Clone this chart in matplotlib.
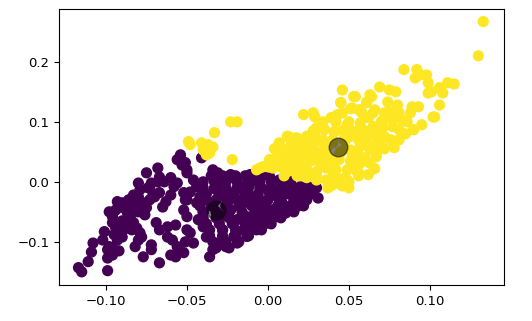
import numpy as np
import matplotlib
matplotlib.use("Agg")
import matplotlib.pyplot as plt

# points (x, y), cluster 0 = purple, cluster 1 = yellow
purple_x = [
    -0.117, -0.115, -0.099, -0.111, -0.109, -0.108, -0.102, -0.101, -0.099, -0.098,
    -0.096, -0.099, -0.093, -0.093, -0.094, -0.096, -0.096, -0.098, -0.094, -0.091,
    -0.093, -0.090, -0.087, -0.085, -0.087, -0.083, -0.084, -0.081, -0.079, -0.080,
    -0.082, -0.078, -0.086, -0.083, -0.080, -0.079, -0.077, -0.075, -0.076, -0.080,
    -0.075, -0.068, -0.073, -0.071, -0.068, -0.067, -0.067, -0.065, -0.063, -0.060,
    -0.058, -0.056, -0.056, -0.054, -0.053, -0.051, -0.050, -0.060, -0.052, -0.050,
    -0.069, -0.067, -0.062, -0.057, -0.062, -0.059, -0.056, -0.060, -0.057, -0.052,
    -0.051, -0.050, -0.077, -0.072, -0.067, -0.072, -0.041, -0.034, -0.031, -0.023,
    -0.022, -0.011, -0.007, -0.003, -0.052, -0.050, -0.046, -0.044, -0.048, -0.042,
    -0.044, -0.051, -0.050, -0.052, -0.048, -0.046, -0.043, -0.040, -0.038, -0.034,
    -0.031, -0.036, -0.032, -0.028, -0.023, -0.019, -0.015, -0.011, -0.005, 0.001,
    0.007, 0.014, 0.020, 0.016, 0.009, 0.003, -0.003, -0.009, -0.015, -0.021,
    -0.028, -0.030, -0.023, -0.017, -0.011, -0.005, 0.001, 0.007, -0.013, -0.007,
    -0.019, -0.001, 0.012, -0.026, -0.019, -0.013, -0.007, -0.001, 0.005, 0.018,
    0.003, 0.011, 0.015, 0.019, 0.023, 0.030, 0.031, 0.025, 0.007, 0.015,
    -0.035, -0.025, -0.040, -0.030, -0.038, -0.027, -0.020, -0.012, -0.004, 0.004,
    # dense middle part
    -0.035, -0.028, -0.020, -0.014, -0.008,
    -0.040, -0.033, -0.026, -0.019, -0.012, -0.005, 0.002, 0.009,
    -0.040, -0.033, -0.026, -0.019, -0.012, -0.005, 0.002, 0.009, 0.016, 0.023,
    -0.038, -0.030, -0.022, -0.014, -0.006, 0.004, 0.012, 0.020, 0.027,
    -0.040, -0.032, -0.024, -0.016, -0.008, 0.000, 0.008, 0.016, 0.024,
    -0.042, -0.034, -0.026, -0.018, -0.010, -0.002, 0.006, 0.014, 0.022,
    -0.040, -0.032, -0.024, -0.016, -0.008, 0.000, 0.008, 0.016,
    -0.040, -0.032, -0.024, -0.016, -0.008, 0.000, 0.008,
    -0.038, -0.030, -0.022, -0.014, -0.006, 0.002,
    -0.036, -0.028, -0.020, -0.012, -0.004,
    -0.036, -0.028, -0.020, -0.012,
    -0.034, -0.026, -0.018,
    -0.032, -0.024,
    # dense left part
    -0.092, -0.088, -0.084, -0.086, -0.090, -0.092, -0.088, -0.095, -0.090, -0.096,
    -0.092, -0.082, -0.078, -0.074, -0.072, -0.064, -0.070, -0.085, -0.080, -0.073,
]
purple_y = [
    -0.143, -0.150, -0.148, -0.133, -0.117, -0.102, -0.097, -0.083, -0.113, -0.108,
    -0.122, -0.127, -0.097, -0.085, -0.077, -0.068, -0.058, -0.050, -0.047, -0.042,
    -0.033, -0.035, -0.050, -0.058, -0.068, -0.068, -0.080, -0.077, -0.085, -0.097,
    -0.108, -0.092, -0.030, -0.022, -0.025, -0.013, -0.035, -0.043, -0.055, -0.002,
    0.015, 0.023, -0.010, -0.022, 0.000, 0.008, -0.018, -0.042, -0.033, 0.007,
    -0.008, -0.002, 0.037, 0.045, 0.028, 0.032, 0.015, -0.022, -0.018, -0.030,
    -0.068, -0.080, -0.075, -0.072, -0.092, -0.097, -0.108, -0.122, -0.125, -0.118,
    -0.100, -0.080, -0.125, -0.105, -0.135, -0.113, 0.040, 0.020, 0.015, 0.012,
    0.007, 0.012, 0.015, 0.017, 0.032, 0.020, 0.003, -0.008, -0.017, -0.025,
    -0.035, -0.030, -0.058, -0.047, -0.085, -0.102, -0.063, -0.075, -0.092, -0.113,
    -0.102, -0.125, -0.013, -0.024, -0.019, -0.013, -0.008, -0.002, 0.003, 0.009,
    0.003, 0.001, -0.008, -0.024, -0.036, -0.047, -0.058, -0.069, -0.080, -0.091,
    -0.080, -0.063, -0.047, -0.041, -0.036, -0.030, -0.019, -0.013, -0.058, -0.047,
    -0.063, -0.041, -0.047, -0.108, -0.102, -0.091, -0.080, -0.069, -0.058, -0.041,
    -0.052, -0.052, -0.047, -0.030, -0.019, -0.010, -0.027, -0.008, -0.030, -0.013,
    -0.040, -0.035, -0.050, -0.055, -0.030, -0.005, -0.028, -0.020, -0.010, -0.022,
    0.010, 0.010, 0.010, 0.010, 0.010,
    0.000, 0.000, 0.000, 0.000, 0.000, 0.000, 0.000, 0.000,
    -0.010, -0.010, -0.010, -0.010, -0.010, -0.010, -0.010, -0.010, -0.010, -0.010,
    -0.020, -0.020, -0.020, -0.020, -0.020, -0.020, -0.020, -0.020, -0.020,
    -0.030, -0.030, -0.030, -0.030, -0.030, -0.030, -0.030, -0.030, -0.030,
    -0.040, -0.040, -0.040, -0.040, -0.040, -0.040, -0.040, -0.040, -0.040,
    -0.050, -0.050, -0.050, -0.050, -0.050, -0.050, -0.050, -0.050,
    -0.060, -0.060, -0.060, -0.060, -0.060, -0.060, -0.060,
    -0.070, -0.070, -0.070, -0.070, -0.070, -0.070,
    -0.080, -0.080, -0.080, -0.080, -0.080,
    -0.090, -0.090, -0.090, -0.090,
    -0.100, -0.100, -0.100,
    -0.110, -0.110,
    -0.040, -0.045, -0.040, -0.060, -0.065, -0.075, -0.078, -0.088, -0.092, -0.110,
    -0.115, -0.030, -0.040, -0.010, -0.002, 0.000, -0.025, -0.050, -0.050, -0.030,
]

yellow_x = [
    -0.023, -0.019, -0.033, -0.049, -0.048, -0.041, -0.037, -0.034, -0.040, -0.038,
    -0.036, -0.022, 0.133, 0.130, 0.084, 0.092, 0.094, 0.098, 0.091, 0.099,
    0.111, 0.115, 0.106, 0.108, 0.099, 0.101, 0.069, 0.075, 0.079, 0.046,
    0.053, 0.045, 0.061, 0.064, 0.074, 0.080, 0.089, 0.093, 0.106, 0.051,
    0.056, 0.066, 0.075, 0.081, 0.041, 0.062, 0.103, 0.071, 0.077, 0.083,
    0.090, 0.049, 0.057, 0.065, 0.071, 0.077, 0.081, 0.041, 0.054, 0.063,
    0.061, 0.045, 0.052, 0.057, 0.065, 0.022, 0.028, 0.029, 0.039, 0.043,
    0.062, 0.049, 0.057, 0.035, 0.041, 0.029, 0.024, 0.012, 0.018, 0.007,
    0.016, 0.022, 0.028, 0.051, 0.057, 0.063, 0.068, 0.034, 0.051, 0.057,
    0.063, 0.067, 0.009, 0.016, 0.024, 0.032, 0.038, 0.001, 0.007, 0.014,
    0.020, 0.026, 0.032, 0.044, 0.051, 0.057, 0.063, -0.003, 0.003, 0.012,
    0.018, 0.024, 0.030, 0.036, 0.042, 0.049, 0.055, 0.024, 0.030, 0.036,
    0.042, 0.049, 0.038, 0.046, 0.050, 0.037, 0.056, 0.067, 0.078, 0.081,
    0.090, 0.102, 0.013, 0.017, 0.000, 0.007, -0.005, -0.007, 0.014, 0.009,
    0.016, 0.022, 0.024, 0.016, 0.007, 0.001, 0.035, 0.045, 0.040, 0.030,
    0.047, 0.060, 0.070, 0.085, 0.072, 0.095,
    # dense middle part
    0.010, 0.018, 0.040, 0.056,
    0.008, 0.040,
    0.012, 0.020, 0.028, 0.052, 0.060,
    0.004, 0.012, 0.020, 0.028, 0.036, 0.048, 0.064, 0.072,
    0.024, 0.030, 0.040, 0.048, 0.056, 0.076,
    0.028, 0.046, 0.052, 0.060, 0.068,
    0.034, 0.042, 0.050, 0.070, 0.086,
    0.046, 0.058, 0.072, 0.088,
    0.040, 0.046, 0.050,
    0.006, 0.016, 0.026, 0.034, 0.036, 0.044, 0.056, 0.062, 0.068, 0.030,
    0.020, 0.062, 0.054, 0.066, 0.078,
]
yellow_y = [
    0.100, 0.100, 0.082, 0.067, 0.062, 0.065, 0.062, 0.058, 0.053, 0.045,
    0.048, 0.037, 0.267, 0.210, 0.187, 0.187, 0.178, 0.178, 0.173, 0.165,
    0.165, 0.163, 0.157, 0.148, 0.148, 0.150, 0.158, 0.153, 0.150, 0.153,
    0.142, 0.132, 0.133, 0.142, 0.133, 0.128, 0.125, 0.125, 0.128, 0.122,
    0.120, 0.120, 0.117, 0.115, 0.108, 0.108, 0.108, 0.103, 0.103, 0.103,
    0.087, 0.087, 0.090, 0.092, 0.090, 0.092, 0.087, 0.083, 0.142, 0.145,
    0.132, 0.132, 0.123, 0.120, 0.115, 0.112, 0.115, 0.108, 0.107, 0.112,
    0.107, 0.095, 0.098, 0.087, 0.084, 0.078, 0.076, 0.076, 0.073, 0.065,
    0.062, 0.065, 0.062, 0.076, 0.076, 0.078, 0.070, 0.070, 0.053, 0.059,
    0.053, 0.048, 0.051, 0.048, 0.045, 0.048, 0.040, 0.037, 0.034, 0.031,
    0.031, 0.034, 0.031, 0.037, 0.034, 0.031, 0.031, 0.025, 0.023, 0.017,
    0.020, 0.020, 0.017, 0.023, 0.020, 0.020, 0.017, 0.007, 0.003, 0.003,
    0.007, 0.003, -0.008, -0.007, 0.000, -0.010, 0.015, 0.042, 0.057, 0.070,
    0.087, 0.108, 0.075, 0.073, 0.025, 0.042, 0.023, 0.020, 0.070, 0.048,
    0.053, 0.053, 0.037, 0.031, 0.031, 0.025, 0.060, 0.050, 0.065, 0.090,
    0.070, 0.065, 0.060, 0.080, 0.075, 0.095,
    0.010, 0.010, 0.010, 0.010,
    0.025, 0.025,
    0.040, 0.040, 0.040, 0.040, 0.040,
    0.055, 0.055, 0.055, 0.055, 0.055, 0.055, 0.055, 0.055,
    0.070, 0.070, 0.070, 0.070, 0.070, 0.070,
    0.085, 0.085, 0.085, 0.085, 0.085,
    0.100, 0.100, 0.100, 0.100, 0.100,
    0.115, 0.115, 0.115, 0.115,
    -0.005, 0.005, -0.010,
    0.047, 0.062, 0.055, 0.040, 0.028, 0.045, 0.045, 0.062, 0.080, 0.012,
    0.010, 0.012, 0.025, 0.022, 0.110,
]

centers_x = [-0.032, 0.043]
centers_y = [-0.047, 0.058]

xs = np.array(purple_x + yellow_x)
ys = np.array(purple_y + yellow_y)
labels = np.array([0] * len(purple_x) + [1] * len(yellow_x))

plt.rcParams['font.size'] = 9.5

fig = plt.figure(figsize=(5.32, 3.21), dpi=100)
ax = fig.add_axes([0.111, 0.112, 0.836, 0.860])

ax.scatter(xs, ys, c=labels, s=50, cmap='viridis')
ax.scatter(centers_x, centers_y, c='black', s=180, alpha=0.5)

ax.set_xlim(-0.129, 0.1457)
ax.set_ylim(-0.172, 0.288)
ax.set_xticks([-0.10, -0.05, 0.00, 0.05, 0.10])
ax.set_yticks([-0.1, 0.0, 0.1, 0.2])

fig.savefig("out.png", dpi=100)
